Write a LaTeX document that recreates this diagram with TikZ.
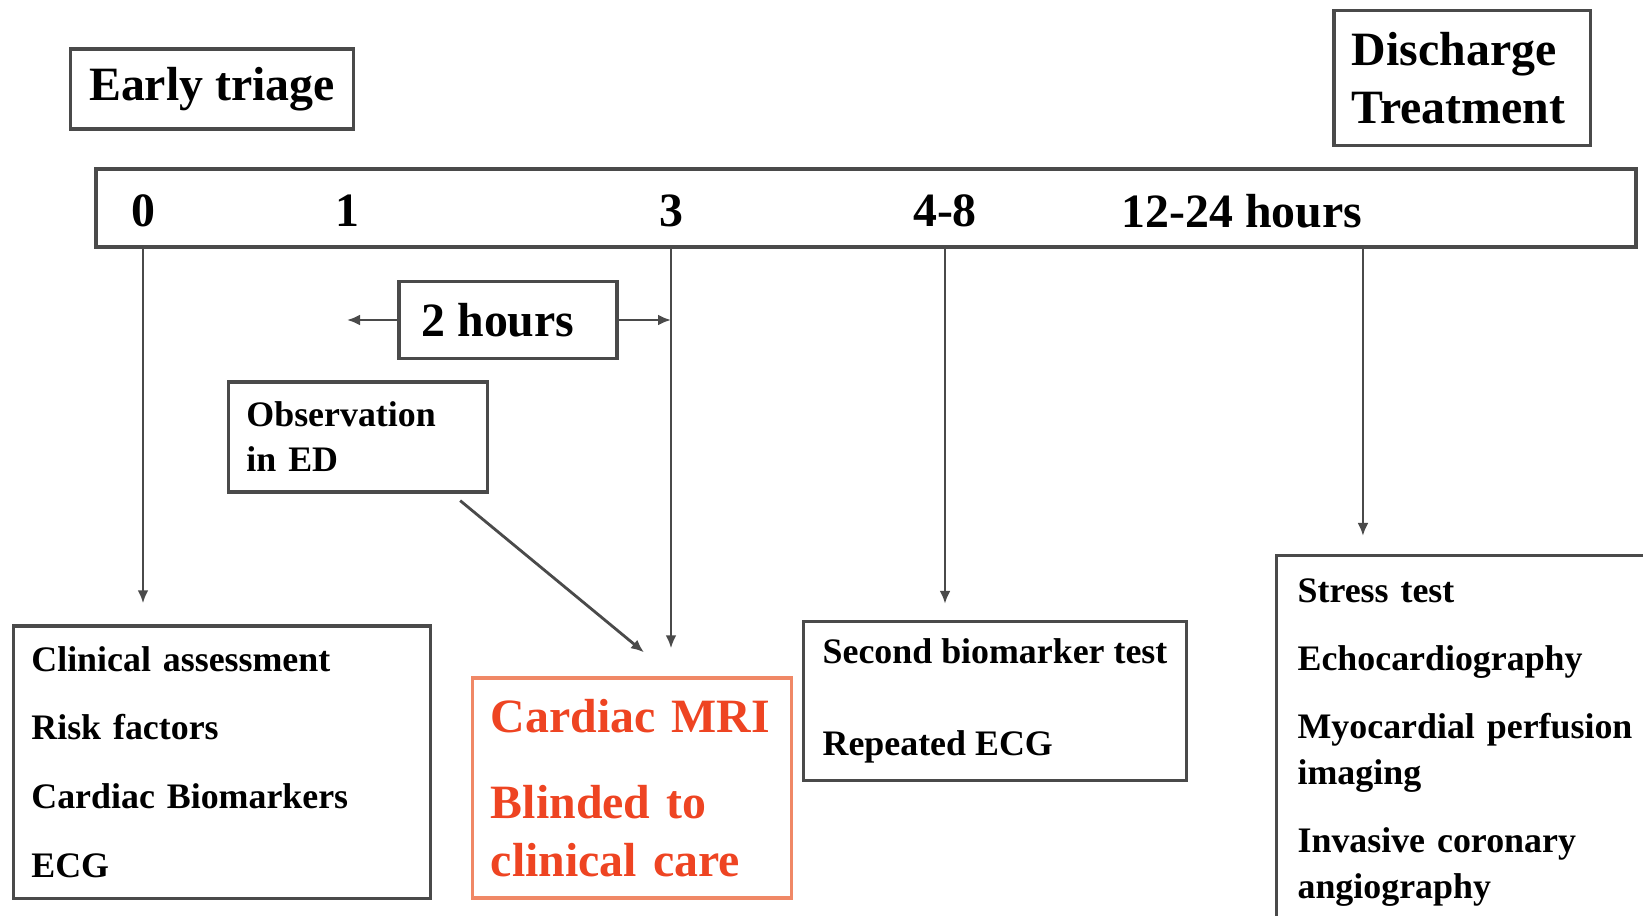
\documentclass[tikz,border=0pt]{standalone}
\usepackage{fontspec}
\setmainfont{Liberation Serif}
\usetikzlibrary{arrows.meta,calc}
\definecolor{linegray}{HTML}{4A4A4A}
\definecolor{mrired}{HTML}{EE4422}
\definecolor{mriedge}{HTML}{F08866}
\newcommand{\bigtxt}{\fontsize{13.6}{16.4}\selectfont\bfseries}
\newcommand{\smalltxt}[1]{\fontsize{10.2}{#1}\selectfont\bfseries}
\tikzset{
  box/.style={draw=linegray,line width=0.9pt,align=left,inner xsep=0.18cm,inner ysep=0pt},
  hourlabel/.style={font=\bigtxt,inner sep=0pt},
  arr/.style={draw=linegray,line width=0.8pt,-{Latex[length=0.13cm,width=0.11cm]}}
}

\begin{document}
\begin{tikzpicture}[x=0.01cm,y=-0.01cm]
  \useasboundingbox (0,0) rectangle (1643,916);
  \node[box,align=center,minimum width=2.83cm,minimum height=0.8cm,inner sep=0pt,font=\bigtxt] (triage) at (212,89) {Early triage};
  \node[box,text width=2.2cm,minimum height=1.35cm,font=\bigtxt] (disch) at (1462,78) {Discharge\\Treatment};
  \node[box,minimum width=15.39cm,minimum height=0.78cm] (bar) at (866,208) {};
  \node[hourlabel] (t0) at (143,211) {0};
  \node[hourlabel] (t1) at (347,211) {1};
  \node[hourlabel] (t3) at (671,211) {3};
  \node[hourlabel] (t48) at (945,211) {4-8};
  \node[hourlabel] (t1224) at (1242,211) {12-24 hours};
  \node[box,align=center,minimum width=2.18cm,minimum height=0.77cm,inner sep=0pt,font=\bigtxt] (hours) at (508,320) {2 hours\hspace{0.2cm}};
  \node[box,text width=2.23cm,minimum height=1.1cm,font=\smalltxt{12.8pt}] (obs) at (358,437) {Observation\\in ED};
  \node[box,text width=3.81cm,minimum height=2.72cm,font=\smalltxt{19.5pt}] (clin) at (222,762)
    {Clinical assessment\\Risk factors\\Cardiac Biomarkers\\ECG};
  \node[box,draw=mriedge,text=mrired,text width=2.82cm,minimum height=2.2cm,font=\bigtxt] (mri) at (632,788)
    {Cardiac MRI\\[0.28cm]Blinded to\\clinical care};
  \node[box,minimum width=3.82cm,minimum height=1.59cm,inner xsep=0pt,font=\smalltxt{26.2pt}] (bio) at (995,701)
    {\rule{0pt}{0.12cm}Second biomarker test\\Repeated ECG};
  \node[box,anchor=north west,text width=3.8cm,inner xsep=0.21cm,inner ysep=0.23cm,font=\smalltxt{13.1pt}] (tests) at (1275,554)
    {Stress test\\[0.22cm]Echocardiography\\[0.22cm]Myocardial perfusion\\imaging\\[0.22cm]Invasive coronary\\angiography};
  % time marks down to the boxes
  \draw[arr,shorten >=0.21cm] (t0 |- bar.south) -- (t0 |- clin.north);
  \draw[arr,shorten >=0.28cm] (t3 |- bar.south) -- (t3 |- mri.north);
  \draw[arr,shorten >=0.16cm] (t48 |- bar.south) -- (t48 |- bio.north);
  \draw[arr,shorten >=0.18cm] (t1224.east |- bar.south) -- (t1224.east |- tests.north);
  \draw[arr] (hours.west) -- (t1 |- hours.west);
  \draw[arr] (hours.east) -- (t3 |- hours.east);
  \draw[arr] ($(obs.south east)+(-29,7)$) -- ($(mri.north)+(12,-24)$);
\end{tikzpicture}
\end{document}
